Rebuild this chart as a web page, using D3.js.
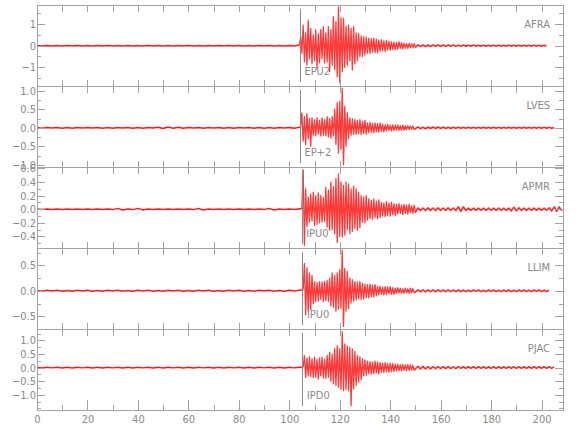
<!DOCTYPE html>
<html><head><meta charset="utf-8">
<script src="https://cdn.jsdelivr.net/npm/d3@7"></script>
<style>
body{margin:0;background:#fff}
svg{display:block}
text{font-family:"Liberation Sans Narrow","DejaVu Sans Condensed","Roboto Condensed",sans-serif;font-size:11px;fill:#8a8a8a}
</style>
</head><body>
<svg id="c" width="580" height="440"></svg>
<script>
// ---------------- data ----------------
const stations = ["AFRA", "LVES", "APMR", "LLIM", "PJAC"];
const pickLabels = ["EPU2", "EP+2", "IPU0", "IPU0", "IPD0"];
const pickTimes = [104.4, 104.4, 105.1, 105.4, 105.4];
const yDomains = [[-1.87, 1.89], [-1.06, 1.13], [-0.57, 0.62], [-0.75, 0.84], [-1.56, 1.42]];
const yMajorTicks = [[-1, 0, 1], [-1, -0.5, 0, 0.5, 1], [-0.4, -0.2, 0, 0.2, 0.4, 0.6], [-0.5, 0, 0.5], [-1, -0.5, 0, 0.5, 1]];
const yMinorTicks = [[-1.5, -0.5, 0.5, 1.5], [-0.75, -0.25, 0.25, 0.75], [-0.5, -0.3, -0.1, 0.1, 0.3, 0.5], [-0.75, -0.25, 0.25, 0.75], [-1.5, -1.25, -0.75, -0.25, 0.25, 0.75, 1.25]];
const yTickFormats = ["d", ".1f", ".1f", ".1f", ".1f"];
const xDomain = [0, 208.5];
const xLabelTicks = [0, 20, 40, 60, 80, 100, 120, 140, 160, 180, 200];
const xMinorTicks = [10, 30, 50, 70, 90, 110, 130, 150, 170, 190];
const xPanelTicks = [10, 20, 30, 40, 50, 60, 70, 80, 90, 100, 110, 120, 130, 140, 150, 160, 170, 180, 190, 200];

// turning points of each trace: quiet part (every 2 s from 0), burst (every 0.5 s from burstStarts), coda (every 1 s from 151)
const quietStep = 2, burstStep = 0.5, codaStart = 151, codaStep = 1;
const burstStarts = [104, 104.5, 105, 105.5, 105.5];

const afraQuiet = [0.01,-0.015,0.015,-0.01,0.015,-0.015,0.01,-0.015,0.015,-0.01, 0.01,-0.015,0.015,-0.01,0.015,-0.015,0.01,-0.015,0.015,-0.01, 0.01,-0.015,0.015,-0.01,0.015,-0.015,0.01,-0.015,0.015,-0.01, 0.01,-0.015,0.015,-0.01,0.015,-0.015,0.01,-0.015,0.015,-0.01, 0.01,-0.015,0.015,-0.01,0.015,-0.015,0.01,-0.015,0.015,-0.01, 0.01,-0.015];
const lvesQuiet = [0.005,-0.01,0.01,-0.005,0.01,-0.01,0.005,-0.01,0.01,-0.005, 0.01,-0.005,0.005,-0.01,0.01,-0.01,0.005,-0.005,0.01,-0.01, 0.005,-0.01,0.01,-0.005,0.015,-0.02,0.02,-0.015,0.015,-0.01, 0.01,-0.005,0.005,-0.01,0.01,-0.005,0.01,-0.01,0.005,-0.01, 0.01,-0.005,0.005,-0.01,0.01,-0.01,0.005,-0.01,0.01,-0.005, 0.005,-0.01];
const apmrQuiet = [0.004,-0.004,0.004,-0.004,0.004,-0.004,0.004,-0.004,0.004,-0.004, 0.004,-0.004,0.004,-0.004,0.004,-0.006,0.012,-0.012,0.004,-0.006, 0.012,-0.012,0.004,-0.004,0.004,-0.004,0.004,-0.004,0.004,-0.004, 0.004,-0.006,0.012,-0.012,0.004,-0.004,0.004,-0.004,0.004,-0.004, 0.004,-0.004,0.004,-0.004,0.004,-0.006,0.012,-0.012,0.004,-0.004, 0.004,-0.004];
const llimQuiet = [0.005,-0.01,0.01,-0.005,0.01,-0.01,0.005,-0.01,0.01,-0.005, 0.01,-0.01,0.005,-0.01,0.01,-0.005,0.01,-0.01,0.005,-0.01, 0.01,-0.005,0.01,-0.01,0.005,-0.01,0.01,-0.005,0.01,-0.01, 0.005,-0.01,0.01,-0.005,0.01,-0.01,0.005,-0.01,0.01,-0.005, 0.01,-0.01,0.005,-0.01,0.01,-0.005,0.01,-0.01,0.005,-0.01, 0.01,-0.005];
const pjacQuiet = [0.01,-0.015,0.015,-0.01,0.015,-0.015,0.01,-0.015,0.015,-0.01, 0.015,-0.015,0.01,-0.015,0.015,-0.01,0.015,-0.015,0.01,-0.015, 0.015,-0.01,0.015,-0.015,0.01,-0.015,0.015,-0.01,0.015,-0.015, 0.01,-0.015,0.015,-0.01,0.015,-0.015,0.01,-0.015,0.015,-0.01, 0.015,-0.015,0.01,-0.015,0.015,-0.01,0.015,-0.015,0.01,-0.015, 0.015,-0.01];

const afraBurst = [0.03,
 0.45,-0.35, 0.96,-0.74, 0.6,-0.9, 1.19,-0.6, 0.8,-0.82, 0.5,-0.7, 0.73,-1.05, 0.55,-0.8, 0.75,-0.6, 0.88,-0.8,
 0.6,-0.75, 0.88,-1.2, 0.75,-0.9, 1.35,-1.1, 1.1,-1.44, 1.8,-1.72, 1.3,-1.2, 1.27,-1.0, 0.9,-0.9, 0.96,-0.7,
 0.8,-1.13, 0.88,-0.85, 0.6,-0.7, 0.57,-0.5, 0.45,-0.5, 0.42,-0.43, 0.4,-0.35, 0.35,-0.36, 0.33,-0.3, 0.35,-0.32,
 0.3,-0.33, 0.26,-0.25, 0.27,-0.24, 0.22,-0.26, 0.25,-0.2, 0.2,-0.22, 0.18,-0.17, 0.17,-0.18, 0.16,-0.15, 0.18,-0.14,
 0.14,-0.15, 0.12,-0.11, 0.1,-0.12, 0.11,-0.09, 0.09,-0.1, 0.1,-0.08];
const lvesBurst = [0.02,
 0.4,-0.36, 0.3,-0.45, 0.38,-0.3, 0.25,-0.5, 0.27,-0.2, 0.22,-0.22, 0.27,-0.18, 0.2,-0.22, 0.27,-0.2, 0.22,-0.22,
 0.3,-0.25, 0.25,-0.28, 0.3,-0.22, 0.5,-0.45, 0.68,-0.68, 0.72,-0.58, 1.07,-1.0, 0.58,-0.5, 0.4,-0.3, 0.27,-0.2,
 0.25,-0.18, 0.22,-0.18, 0.2,-0.16, 0.22,-0.18, 0.18,-0.15, 0.2,-0.17, 0.13,-0.13, 0.15,-0.12, 0.12,-0.13, 0.13,-0.11,
 0.11,-0.12, 0.13,-0.1, 0.1,-0.11, 0.08,-0.08, 0.09,-0.07, 0.07,-0.08, 0.08,-0.07, 0.07,-0.06, 0.08,-0.07, 0.06,-0.07,
 0.07,-0.06, 0.05,-0.05, 0.06,-0.05, 0.05,-0.04, 0.05,-0.05];
const apmrBurst = [0.01,
 0.58,-0.53, 0.3,-0.25, 0.18,-0.19, 0.22,-0.17, 0.25,-0.24, 0.2,-0.22, 0.24,-0.2, 0.2,-0.19, 0.17,-0.18, 0.32,-0.26,
 0.28,-0.31, 0.4,-0.3, 0.33,-0.36, 0.45,-0.49, 0.52,-0.4, 0.4,-0.41, 0.35,-0.38, 0.4,-0.3, 0.37,-0.36, 0.3,-0.33,
 0.34,-0.28, 0.3,-0.31, 0.25,-0.27, 0.2,-0.19, 0.18,-0.2, 0.2,-0.16, 0.15,-0.14, 0.13,-0.15, 0.15,-0.12, 0.12,-0.14,
 0.14,-0.12, 0.1,-0.1, 0.09,-0.11, 0.11,-0.09, 0.09,-0.1, 0.1,-0.08, 0.08,-0.09, 0.07,-0.07, 0.08,-0.06, 0.06,-0.08,
 0.07,-0.06, 0.06,-0.07, 0.07,-0.05, 0.05,-0.06, 0.06,-0.05];
const llimBurst = [0.02,
 0.54,-0.47, 0.45,-0.4, 0.35,-0.37, 0.3,-0.25, 0.18,-0.21, 0.16,-0.2, 0.18,-0.17, 0.17,-0.21, 0.18,-0.19, 0.2,-0.21,
 0.25,-0.3, 0.35,-0.32, 0.3,-0.4, 0.35,-0.36, 0.41,-0.34, 0.8,-0.7, 0.44,-0.4, 0.38,-0.35, 0.25,-0.24, 0.22,-0.2,
 0.18,-0.18, 0.17,-0.16, 0.18,-0.17, 0.15,-0.16, 0.13,-0.13, 0.12,-0.14, 0.13,-0.11, 0.11,-0.12, 0.12,-0.1, 0.08,-0.08,
 0.09,-0.07, 0.07,-0.08, 0.08,-0.07, 0.07,-0.06, 0.08,-0.07, 0.06,-0.07, 0.05,-0.05, 0.06,-0.04, 0.05,-0.05, 0.04,-0.05,
 0.05,-0.04, 0.04,-0.05, 0.05,-0.04, 0.04,-0.04];
const pjacBurst = [0.02,
 0.44,-0.36, 0.35,-0.3, 0.4,-0.33, 0.32,-0.36, 0.38,-0.35, 0.3,-0.42, 0.36,-0.3, 0.38,-0.38, 0.3,-0.4, 0.45,-0.35,
 0.56,-0.5, 0.5,-0.6, 0.7,-0.65, 0.81,-0.72, 0.7,-0.8, 1.32,-0.85, 0.87,-0.8, 0.8,-0.85, 0.75,-1.4, 0.69,-0.78,
 0.6,-0.65, 0.44,-0.54, 0.4,-0.45, 0.32,-0.3, 0.28,-0.28, 0.24,-0.22, 0.22,-0.24, 0.2,-0.22, 0.24,-0.2, 0.21,-0.23,
 0.18,-0.17, 0.17,-0.18, 0.18,-0.16, 0.15,-0.17, 0.16,-0.15, 0.15,-0.14, 0.12,-0.12, 0.13,-0.11, 0.11,-0.12, 0.12,-0.1,
 0.1,-0.11, 0.11,-0.1, 0.1,-0.09, 0.09,-0.1];

const afraCoda = [0.04,-0.04,0.035,-0.04,0.035,-0.035,0.04,-0.035,0.04,-0.035, 0.035,-0.03,0.03,-0.025,0.03,-0.03,0.025,-0.03,0.03,-0.025, 0.025,-0.025,0.03,-0.025,0.025,-0.025,0.025,-0.025,0.025,-0.025, 0.025,-0.025,0.025,-0.025,0.025,-0.025,0.025,-0.025,0.025,-0.025, 0.025,-0.025,0.025,-0.025,0.025,-0.025,0.025,-0.025,0.025,-0.025, 0.025,-0.025];
const lvesCoda = [0.025,-0.025,0.02,-0.025,0.02,-0.02,0.02,-0.02,0.02,-0.02, 0.02,-0.02,0.015,-0.02,0.015,-0.015,0.015,-0.015,0.015,-0.015, 0.015,-0.015,0.015,-0.015,0.015,-0.015,0.015,-0.015,0.015,-0.015, 0.015,-0.015,0.015,-0.015,0.015,-0.015,0.015,-0.015,0.015,-0.015, 0.015,-0.015,0.015,-0.015,0.015,-0.015,0.015,-0.015,0.015,-0.015, 0.015,-0.015,0.015,-0.015,0.01];
const apmrCoda = [0.02,-0.02,0.018,-0.02,0.02,-0.018,0.018,-0.02,0.02,-0.018, 0.018,-0.018,0.02,-0.018,0.018,-0.02,0.035,-0.03,0.035,-0.02, 0.016,-0.016,0.016,-0.016,0.016,-0.016,0.016,-0.016,0.016,-0.016, 0.016,-0.016,0.016,-0.016,0.016,-0.016,0.016,-0.025,0.03,-0.025, 0.02,-0.016,0.016,-0.016,0.016,-0.016,0.016,-0.016,0.016,-0.016, 0.016,-0.016,0.02,-0.025,0.035,-0.03,0.035,-0.025];
const llimCoda = [0.02,-0.02,0.018,-0.02,0.02,-0.018,0.018,-0.02,0.02,-0.018, 0.016,-0.016,0.018,-0.016,0.016,-0.018,0.016,-0.016,0.016,-0.016, 0.012,-0.016,0.016,-0.012,0.016,-0.016,0.012,-0.016,0.016,-0.012, 0.016,-0.016,0.012,-0.016,0.016,-0.012,0.016,-0.016,0.012,-0.016, 0.016,-0.012,0.016,-0.016,0.012,-0.016,0.016,-0.012,0.016,-0.016, 0.012,-0.016,0.012];
const pjacCoda = [0.05,-0.05,0.045,-0.05,0.04,-0.045,0.04,-0.04,0.04,-0.035, 0.035,-0.035,0.035,-0.035,0.03,-0.035,0.035,-0.03,0.03,-0.03, 0.03,-0.03,0.03,-0.03,0.03,-0.03,0.03,-0.03,0.03,-0.03, 0.03,-0.03,0.03,-0.03,0.03,-0.03,0.03,-0.03,0.035,-0.03, 0.03,-0.03,0.03,-0.03,0.03,-0.03,0.03,-0.03,0.03,-0.03, 0.03,-0.03,0.03,-0.03,0.025];

const quietTraces = [afraQuiet, lvesQuiet, apmrQuiet, llimQuiet, pjacQuiet];
const burstTraces = [afraBurst, lvesBurst, apmrBurst, llimBurst, pjacBurst];
const codaTraces = [afraCoda, lvesCoda, apmrCoda, llimCoda, pjacCoda];

// ---------------- drawing ----------------
const plotLeft = 37, plotRight = 563, plotTop = 5, panelH = 81;
const axisColor = "#a3a3a3", traceColor = "#ff0000";
const svg = d3.select("#c");
const x = d3.scaleLinear().domain(xDomain).range([plotLeft, plotRight]);

function tracePieces(i) {
  const quiet = quietTraces[i].map((v, k) => [k * quietStep, v]);
  const burst = burstTraces[i].map((v, k) => [burstStarts[i] + k * burstStep, v]);
  const coda = codaTraces[i].map((v, k) => [codaStart + k * codaStep, v]);
  return [
    { pts: quiet.concat([burst[0]]), w: 1.5, o: 0.9 },
    { pts: burst, w: 1.3, o: 0.78 },
    { pts: [burst[burst.length - 1]].concat(coda), w: 1.6, o: 0.85 }
  ];
}

function styleAxis(g) {
  g.select(".domain").remove();
  g.selectAll(".tick line").attr("stroke", axisColor).attr("shape-rendering", "crispEdges");
  g.selectAll(".tick text").attr("fill", "#8a8a8a").attr("font-size", null).attr("font-family", null);
}

const defs = svg.append("defs");

stations.forEach((name, i) => {
  const top = plotTop + i * panelH, bottom = top + panelH;
  const y = d3.scaleLinear().domain(yDomains[i]).range([bottom, top]);
  const g = svg.append("g");

  defs.append("clipPath").attr("id", "clip" + i)
    .append("rect").attr("x", plotLeft).attr("y", top).attr("width", plotRight - plotLeft).attr("height", panelH);

  // trace
  const line = d3.line().x(d => x(d[0])).y(d => y(d[1]));
  g.append("g").attr("clip-path", `url(#clip${i})`)
    .selectAll("path").data(tracePieces(i)).join("path")
    .attr("d", d => line(d.pts)).attr("fill", "none")
    .attr("stroke", traceColor).attr("stroke-width", d => d.w).attr("stroke-opacity", d => d.o)
    .attr("stroke-linejoin", "round");

  // left axis
  g.append("g").attr("transform", `translate(${plotLeft},0)`)
    .call(d3.axisLeft(y).tickValues(yMajorTicks[i]).tickSize(-8).tickPadding(1).tickFormat(d3.format(yTickFormats[i])))
    .call(styleAxis);
  g.append("g").attr("transform", `translate(${plotLeft},0)`)
    .call(d3.axisLeft(y).tickValues(yMinorTicks[i]).tickSize(-4).tickFormat(""))
    .call(styleAxis);
  // right axis
  g.append("g").attr("transform", `translate(${plotRight},0)`)
    .call(d3.axisRight(y).tickValues(yMajorTicks[i]).tickSize(-8).tickFormat(""))
    .call(styleAxis);
  g.append("g").attr("transform", `translate(${plotRight},0)`)
    .call(d3.axisRight(y).tickValues(yMinorTicks[i]).tickSize(-4).tickFormat(""))
    .call(styleAxis);
  // top ticks
  g.append("g").attr("transform", `translate(0,${top})`)
    .call(d3.axisTop(x).tickValues(xPanelTicks).tickSize(-7).tickFormat(""))
    .call(styleAxis);
  // bottom ticks
  if (i < stations.length - 1) {
    g.append("g").attr("transform", `translate(0,${bottom})`)
      .call(d3.axisBottom(x).tickValues(xPanelTicks).tickSize(-6).tickFormat(""))
      .call(styleAxis);
  } else {
    g.append("g").attr("transform", `translate(0,${bottom})`)
      .call(d3.axisBottom(x).tickValues(xLabelTicks).tickSize(-10).tickPadding(5).tickFormat(d3.format("d")))
      .call(styleAxis);
    g.append("g").attr("transform", `translate(0,${bottom})`)
      .call(d3.axisBottom(x).tickValues(xMinorTicks).tickSize(-5).tickFormat(""))
      .call(styleAxis);
  }

  // pick marker
  g.append("line")
    .attr("x1", x(pickTimes[i])).attr("x2", x(pickTimes[i]))
    .attr("y1", top + 4).attr("y2", bottom - 4)
    .attr("stroke", "#8a8a8a").attr("stroke-width", 1).attr("shape-rendering", "crispEdges");
  g.append("text")
    .attr("x", x(pickTimes[i]) + 4).attr("y", bottom - 15).attr("dy", "0.35em")
    .text(pickLabels[i]);

  // station label
  g.append("text")
    .attr("x", 550).attr("y", top + 19).attr("dy", "0.35em").attr("text-anchor", "end")
    .text(name);

  // panel frame
  g.append("rect")
    .attr("x", plotLeft).attr("y", top).attr("width", plotRight - plotLeft).attr("height", panelH)
    .attr("fill", "none").attr("stroke", axisColor).attr("shape-rendering", "crispEdges");
});
</script>
</body></html>
